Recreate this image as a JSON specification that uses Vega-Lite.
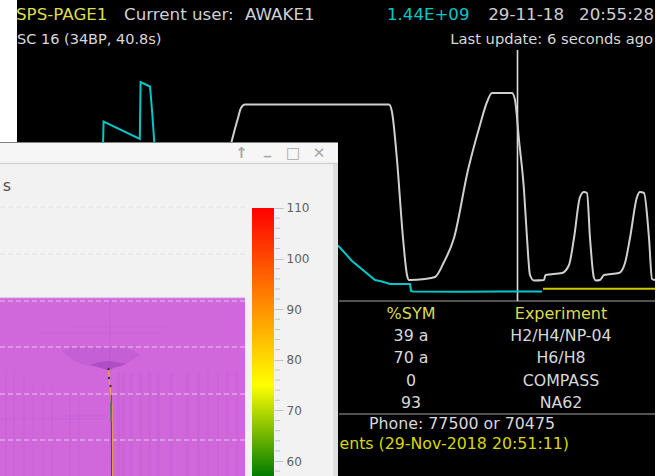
{
"$schema":"https://vega.github.io/schema/vega-lite/v6.json",
"width":664,"height":476,"padding":0,"autosize":"none","background":"white",
"config":{"view":{"stroke":null}},
"resolve":{"scale":{"y":"independent"},"axis":{"y":"independent"}},
"layer":[
{"encoding":{
 "x":{"field":"x","type":"quantitative","scale":{"domain":[0,664],"nice":false,"zero":false},"axis":null},
 "y":{"field":"y","type":"quantitative","scale":{"domain":[476,0],"nice":false,"zero":false},"axis":null}},
 "layer":[
 {"data":{"values":[{"x":17,"x2":655,"y":0,"y2":476}]},"mark":{"type":"rect","color":"#000000"},"encoding":{"x2":{"field":"x2"},"y2":{"field":"y2"}}},
 {"data":{"values":[{"x":339,"x2":655,"y":301},{"x":339,"x2":655,"y":414}]},"mark":{"type":"rule","color":"#6e6e6e","strokeWidth":1.5},"encoding":{"x2":{"field":"x2"}}},
 {"data":{"values":[{"x":517.5,"y":50,"y2":301}]},"mark":{"type":"rule","color":"#dcdcdc","strokeWidth":1.6},"encoding":{"y2":{"field":"y2"}}},
 {"data":{"values":[{"x":103,"y":145},{"x":103.6,"y":121.5},{"x":139.8,"y":139},{"x":140.6,"y":82},{"x":150,"y":86.5},{"x":152,"y":110},{"x":154.5,"y":145},{"x":200,"y":170},{"x":339,"y":246.5},{"x":352,"y":261},{"x":375,"y":280},{"x":382,"y":281.5},{"x":390,"y":284},{"x":410,"y":284},{"x":411,"y":291},{"x":413,"y":291.5},{"x":460,"y":291.8},{"x":500,"y":291.5},{"x":542,"y":291.5}]},"mark":{"type":"line","color":"#00c8c8","strokeWidth":2}},
 {"data":{"values":[{"x":543,"y":288.7},{"x":655,"y":288.7}]},"mark":{"type":"line","color":"#c8c800","strokeWidth":2}},
 {"data":{"values":[{"x":230,"y":148},{"x":232,"y":140},{"x":238,"y":118},{"x":241,"y":108},{"x":245,"y":104.5},{"x":389,"y":104.5},{"x":392,"y":112},{"x":397,"y":160},{"x":403,"y":238},{"x":407,"y":275},{"x":409,"y":280},{"x":425,"y":279},{"x":435,"y":277},{"x":444,"y":262},{"x":454,"y":238},{"x":468,"y":170},{"x":480,"y":125},{"x":487,"y":102},{"x":492,"y":93},{"x":512,"y":93},{"x":515,"y":100},{"x":519,"y":140},{"x":524,"y":190},{"x":527,"y":238},{"x":530,"y":275},{"x":534,"y":280.5},{"x":544,"y":280},{"x":545.5,"y":275},{"x":562,"y":273},{"x":569,"y":265},{"x":574,"y":238},{"x":580,"y":197},{"x":584,"y":192},{"x":587,"y":193},{"x":590,"y":238},{"x":594,"y":278},{"x":596,"y":280.5},{"x":600,"y":280},{"x":604,"y":275},{"x":619,"y":273},{"x":625,"y":263},{"x":630,"y":238},{"x":637,"y":197},{"x":640,"y":192},{"x":644,"y":193},{"x":649,"y":238},{"x":652,"y":279},{"x":655,"y":280}]},"mark":{"type":"line","color":"#d0d0d0","strokeWidth":2,"interpolate":"monotone"}},
 {"data":{"values":[{"x":16,"y":15,"t":"SPS-PAGE1"}]},"mark":{"type":"text","align":"left","baseline":"middle","font":"DejaVu Sans","fontSize":16.7,"color":"#dcdc50"},"encoding":{"text":{"field":"t"}}},
 {"data":{"values":[{"x":411,"y":314,"t":"%SYM"},{"x":561,"y":314,"t":"Experiment"}]},"mark":{"type":"text","align":"center","baseline":"middle","font":"DejaVu Sans","fontSize":16,"color":"#dcdc50"},"encoding":{"text":{"field":"t"}}},
 {"data":{"values":[{"x":124,"y":15,"t":"Current user:"},{"x":245,"y":15,"t":"AWAKE1"}]},"mark":{"type":"text","align":"left","baseline":"middle","font":"DejaVu Sans","fontSize":16.7,"color":"#d0d0d0"},"encoding":{"text":{"field":"t"}}},
 {"data":{"values":[{"x":17,"y":40,"t":"SC 16 (34BP, 40.8s)"}]},"mark":{"type":"text","align":"left","baseline":"middle","font":"DejaVu Sans","fontSize":14.5,"color":"#d8d8d8"},"encoding":{"text":{"field":"t"}}},
 {"data":{"values":[{"x":654,"y":15,"t":"20:55:28"},{"x":564,"y":15,"t":"29-11-18"}]},"mark":{"type":"text","align":"right","baseline":"middle","font":"DejaVu Sans","fontSize":16.7,"color":"#d0d0d0"},"encoding":{"text":{"field":"t"}}},
 {"data":{"values":[{"x":653,"y":40,"t":"Last update: 6 seconds ago"}]},"mark":{"type":"text","align":"right","baseline":"middle","font":"DejaVu Sans","fontSize":14.7,"color":"#d8d8d8"},"encoding":{"text":{"field":"t"}}},
 {"data":{"values":[{"x":387,"y":15,"t":"1.44E+09"}]},"mark":{"type":"text","align":"left","baseline":"middle","font":"DejaVu Sans","fontSize":16.6,"color":"#00c8c8"},"encoding":{"text":{"field":"t"}}},
 {"data":{"values":[{"x":411,"y":336,"t":"39 a"},{"x":561,"y":336,"t":"H2/H4/NP-04"},{"x":411,"y":358,"t":"70 a"},{"x":561,"y":358,"t":"H6/H8"},{"x":411,"y":381,"t":"0"},{"x":561,"y":381,"t":"COMPASS"},{"x":411,"y":403,"t":"93"},{"x":561,"y":403,"t":"NA62"},{"x":462,"y":424,"t":"Phone: 77500 or 70475"}]},"mark":{"type":"text","align":"center","baseline":"middle","font":"DejaVu Sans","fontSize":15.8,"color":"#d8d8d8"},"encoding":{"text":{"field":"t"}}},
 {"data":{"values":[{"x":569,"y":444,"t":"ents (29-Nov-2018 20:51:11)"}]},"mark":{"type":"text","align":"right","baseline":"middle","font":"DejaVu Sans","fontSize":15.8,"color":"#d8d800"},"encoding":{"text":{"field":"t"}}},
 {"data":{"values":[{"x":0,"x2":338,"y":142,"y2":476}]},"mark":{"type":"rect","color":"#f2f2f2"},"encoding":{"x2":{"field":"x2"},"y2":{"field":"y2"}}},
 {"data":{"values":[{"x":0,"x2":338,"y":143,"y2":163}]},"mark":{"type":"rect","color":"#f6f6f6"},"encoding":{"x2":{"field":"x2"},"y2":{"field":"y2"}}},
 {"data":{"values":[{"x":333,"x2":338,"y":163,"y2":476}]},"mark":{"type":"rect","color":"#dedede"},"encoding":{"x2":{"field":"x2"},"y2":{"field":"y2"}}},
 {"data":{"values":[{"x":0,"x2":338,"y":142.5}]},"mark":{"type":"rule","color":"#808080","strokeWidth":1},"encoding":{"x2":{"field":"x2"}}},
 {"data":{"values":[{"x":0,"x2":338,"y":163.5}]},"mark":{"type":"rule","color":"#d2d2d2","strokeWidth":1.5},"encoding":{"x2":{"field":"x2"}}},
 {"data":{"values":[{"x":241.5,"y":153,"t":"↑"},{"x":267.5,"y":149,"t":"_"},{"x":293,"y":153,"t":"□"},{"x":319,"y":153,"t":"✕"}]},"mark":{"type":"text","align":"center","baseline":"middle","font":"DejaVu Sans","fontSize":15,"fontWeight":"bold","color":"#a8a8a8"},"encoding":{"text":{"field":"t"}}},
 {"data":{"values":[{"x":7,"y":186,"t":"s"}]},"mark":{"type":"text","align":"center","baseline":"middle","font":"DejaVu Sans","fontSize":16,"color":"#505050"},"encoding":{"text":{"field":"t"}}},
 {"data":{"values":[{"x":0,"x2":245,"y":207},{"x":0,"x2":245,"y":254}]},"mark":{"type":"rule","color":"#e2e2e2","strokeWidth":1,"strokeDash":[5,3]},"encoding":{"x2":{"field":"x2"}}},
 {"data":{"values":[{"x":0,"x2":245,"y":298,"y2":476}]},"mark":{"type":"rect","color":"#d068dc"},"encoding":{"x2":{"field":"x2"},"y2":{"field":"y2"}}},
 {"data":{"values":[{"x":0,"x2":245,"y":298}]},"mark":{"type":"rule","color":"#e090ea","strokeWidth":1},"encoding":{"x2":{"field":"x2"}}},
 {"data":{"values":[{"x":5,"x2":7,"y":372,"y2":476},{"x":13,"x2":15,"y":372,"y2":476},{"x":23,"x2":25,"y":372,"y2":476},{"x":32,"x2":34,"y":385,"y2":476},{"x":42,"x2":44,"y":385,"y2":476},{"x":51,"x2":53,"y":385,"y2":476},{"x":69,"x2":71,"y":395,"y2":476},{"x":78,"x2":80,"y":395,"y2":476},{"x":2,"x2":104,"y":418,"y2":420},{"x":60,"x2":105,"y":415,"y2":417},{"x":40,"x2":160,"y":332,"y2":334},{"x":70,"x2":170,"y":326,"y2":328},{"x":109,"x2":111,"y":298,"y2":368}]},"mark":{"type":"rect","color":"#9040b0","opacity":0.05},"encoding":{"x2":{"field":"x2"},"y2":{"field":"y2"}}},
 {"data":{"values":[{"x":117,"x2":120,"y":372,"y2":476},{"x":122,"x2":125,"y":372,"y2":476},{"x":129,"x2":133,"y":374,"y2":476},{"x":139,"x2":142,"y":372,"y2":476},{"x":148,"x2":151,"y":372,"y2":476},{"x":156,"x2":160,"y":372,"y2":476},{"x":169,"x2":173,"y":374,"y2":476},{"x":186,"x2":189,"y":372,"y2":476},{"x":197,"x2":200,"y":372,"y2":476},{"x":207,"x2":209,"y":372,"y2":476},{"x":217,"x2":219,"y":372,"y2":476},{"x":226,"x2":228,"y":372,"y2":476},{"x":236,"x2":238,"y":372,"y2":476}]},"mark":{"type":"rect","color":"#9040b0","opacity":0.09},"encoding":{"x2":{"field":"x2"},"y2":{"field":"y2"}}},
 {"data":{"values":[{"x":62,"y":351,"y2":351},{"x":70,"y":348,"y2":358},{"x":85,"y":347,"y2":365},{"x":100,"y":347,"y2":368},{"x":108,"y":347,"y2":369.5},{"x":115,"y":347,"y2":368},{"x":125,"y":348,"y2":364},{"x":135,"y":351,"y2":358},{"x":140,"y":355,"y2":355}]},"mark":{"type":"area","color":"#a848c4","opacity":0.28,"interpolate":"monotone"},"encoding":{"y2":{"field":"y2"}}},
 {"data":{"values":[{"x":90,"y":365,"y2":365},{"x":100,"y":362,"y2":367.5},{"x":108,"y":361,"y2":370},{"x":116,"y":362,"y2":367},{"x":127,"y":364,"y2":364}]},"mark":{"type":"area","color":"#8a30a8","opacity":0.35,"interpolate":"monotone"},"encoding":{"y2":{"field":"y2"}}},
 {"data":{"values":[{"x":0,"x2":245,"y":301},{"x":0,"x2":245,"y":347},{"x":0,"x2":245,"y":394},{"x":0,"x2":245,"y":440}]},"mark":{"type":"rule","color":"#e8c4ec","strokeWidth":1.2,"strokeDash":[5,3]},"encoding":{"x2":{"field":"x2"}}},
 {"data":{"values":[{"x":108.5,"y":369},{"x":109,"y":378},{"x":110,"y":386},{"x":110.6,"y":392},{"x":111,"y":398},{"x":112,"y":405},{"x":112.3,"y":476}]},"mark":{"type":"line","color":"#e8a040","strokeWidth":1.4}},
 {"data":{"values":[{"x":111.3,"y":395},{"x":111.5,"y":476}]},"mark":{"type":"line","color":"#4a30c0","strokeWidth":1}},
 {"data":{"values":[{"x":111,"y":402},{"x":111.3,"y":422}]},"mark":{"type":"line","color":"#3a8a40","strokeWidth":1.6}},
 {"data":{"values":[{"x":108.5,"y":369},{"x":109,"y":378},{"x":110.5,"y":386}]},"mark":{"type":"point","filled":true,"size":6,"color":"#40306a","opacity":1}}
 ]},
{"encoding":{
 "y":{"field":"level","type":"quantitative","scale":{"domain":[57.04,151.1],"nice":false,"zero":false},
  "axis":{"orient":"right","offset":-390,"values":[60,70,80,90,100,110],"domain":false,"grid":false,"title":null,"zindex":1,"tickSize":9,"tickColor":"#c4c4c4","labelColor":"#606060","labelFont":"DejaVu Sans","labelFontSize":12,"labelPadding":3}},
 "x":{"field":"x","type":"quantitative"}},
 "layer":[
 {"data":{"values":[{"x":252,"x2":274,"level":57.04,"top":110}]},"mark":{"type":"rect","color":{"gradient":"linear","x1":0,"y1":0,"x2":0,"y2":1,"stops":[{"offset":0,"color":"#ff0000"},{"offset":0.66,"color":"#ffff00"},{"offset":1,"color":"#007c00"}]}},"encoding":{"x2":{"field":"x2"},"y2":{"field":"top"}}},
 {"data":{"values":[{"x":275,"x2":280,"level":58},{"x":275,"x2":280,"level":62},{"x":275,"x2":280,"level":64},{"x":275,"x2":280,"level":66},{"x":275,"x2":280,"level":68},{"x":275,"x2":280,"level":72},{"x":275,"x2":280,"level":74},{"x":275,"x2":280,"level":76},{"x":275,"x2":280,"level":78},{"x":275,"x2":280,"level":82},{"x":275,"x2":280,"level":84},{"x":275,"x2":280,"level":86},{"x":275,"x2":280,"level":88},{"x":275,"x2":280,"level":92},{"x":275,"x2":280,"level":94},{"x":275,"x2":280,"level":96},{"x":275,"x2":280,"level":98},{"x":275,"x2":280,"level":102},{"x":275,"x2":280,"level":104},{"x":275,"x2":280,"level":106},{"x":275,"x2":280,"level":108}]},"mark":{"type":"rule","color":"#c4c4c4","strokeWidth":1},"encoding":{"x2":{"field":"x2"}}}
 ]}
]}
